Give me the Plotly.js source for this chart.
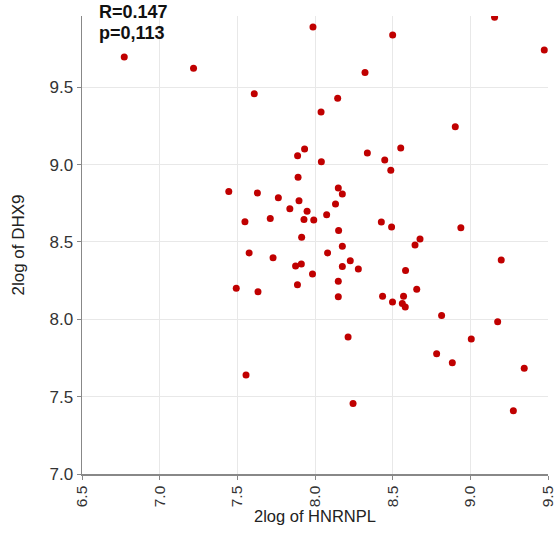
<!DOCTYPE html>
<html>
<head>
<meta charset="utf-8">
<script src="https://cdn.plot.ly/plotly-3.0.1.min.js"></script>
<style>html,body{margin:0;padding:0;background:#fff;}#chart{width:558px;height:537px;}</style>
</head>
<body>
<div id="chart"></div>
<script>
// HNRNPL (x) vs DHX9 (y), 2log expression values
const hnrnpl = [6.772,7.218,7.609,7.987,8.500,9.156,9.476,8.322,8.146,8.039,8.903,7.888,7.933,8.041,8.337,8.552,8.449,8.488,7.891,7.445,7.629,7.764,8.150,8.176,8.132,7.897,7.838,7.949,8.075,7.549,7.712,7.929,7.992,8.152,8.427,8.493,8.939,7.914,8.676,8.644,8.176,8.081,7.576,7.730,9.199,8.227,7.875,7.912,8.176,8.279,8.583,7.984,7.887,7.493,7.633,8.150,8.150,8.435,8.499,8.570,8.562,8.581,8.655,8.815,9.176,8.213,9.006,8.783,8.884,9.347,7.556,8.245,9.277];
const dhx9 = [9.696,9.623,9.459,9.890,9.838,9.953,9.741,9.595,9.429,9.340,9.245,9.058,9.101,9.019,9.075,9.108,9.030,8.964,8.918,8.827,8.817,8.786,8.849,8.810,8.746,8.767,8.715,8.698,8.676,8.631,8.652,8.645,8.642,8.574,8.629,8.597,8.592,8.530,8.519,8.481,8.472,8.429,8.429,8.398,8.384,8.379,8.345,8.358,8.342,8.325,8.316,8.293,8.224,8.201,8.179,8.246,8.146,8.149,8.112,8.149,8.102,8.080,8.194,8.025,7.985,7.886,7.873,7.778,7.720,7.683,7.640,7.455,7.409];
const statLines = ["R=0.147", "p=0,113"];
const xTitle = "2log of HNRNPL";
const yTitle = "2log of DHX9";

const font = "Liberation Sans, Arial, sans-serif";
const trace = {
  x: hnrnpl, y: dhx9, type: "scatter", mode: "markers",
  marker: {color: "#c00000", size: 7, line: {width: 0}},
  hoverinfo: "skip"
};
const axisCommon = {
  showline: true, linecolor: "#888888", linewidth: 1.5,
  ticks: "outside", ticklen: 4, tickcolor: "#888888", tickwidth: 1,
  showgrid: true, gridcolor: "#e8e8e8", gridwidth: 1,
  zeroline: false, dtick: 0.5, tick0: 0, tickformat: ".1f"
};
const layout = {
  width: 558, height: 537,
  margin: {l: 82, r: 10, t: 16, b: 63},
  paper_bgcolor: "#ffffff", plot_bgcolor: "#ffffff",
  showlegend: false,
  font: {family: font},
  xaxis: Object.assign({}, axisCommon, {
    range: [6.5, 9.5], tickangle: -90,
    tickfont: {family: font, size: 15.5, color: "#333333"},
    title: {text: xTitle, font: {family: font, size: 16.5, color: "#222222"}, standoff: 4}
  }),
  yaxis: Object.assign({}, axisCommon, {
    range: [7.0, 9.961],
    tickfont: {family: font, size: 17, color: "#333333"},
    title: {text: yTitle, font: {family: font, size: 17, color: "#222222"}, standoff: 20}
  }),
  annotations: [
    {text: "<b>" + statLines[0] + "</b>", xref: "paper", yref: "paper", x: 0.0328, y: 1.0087,
     xanchor: "left", yanchor: "middle", showarrow: false,
     font: {family: font, size: 18, color: "#111111"}},
    {text: "<b>" + statLines[1] + "</b>", xref: "paper", yref: "paper", x: 0.0328, y: 0.963,
     xanchor: "left", yanchor: "middle", showarrow: false,
     font: {family: font, size: 18, color: "#111111"}}
  ]
};
Plotly.newPlot("chart", [trace], layout, {displayModeBar: false, staticPlot: true});
</script>
</body>
</html>
